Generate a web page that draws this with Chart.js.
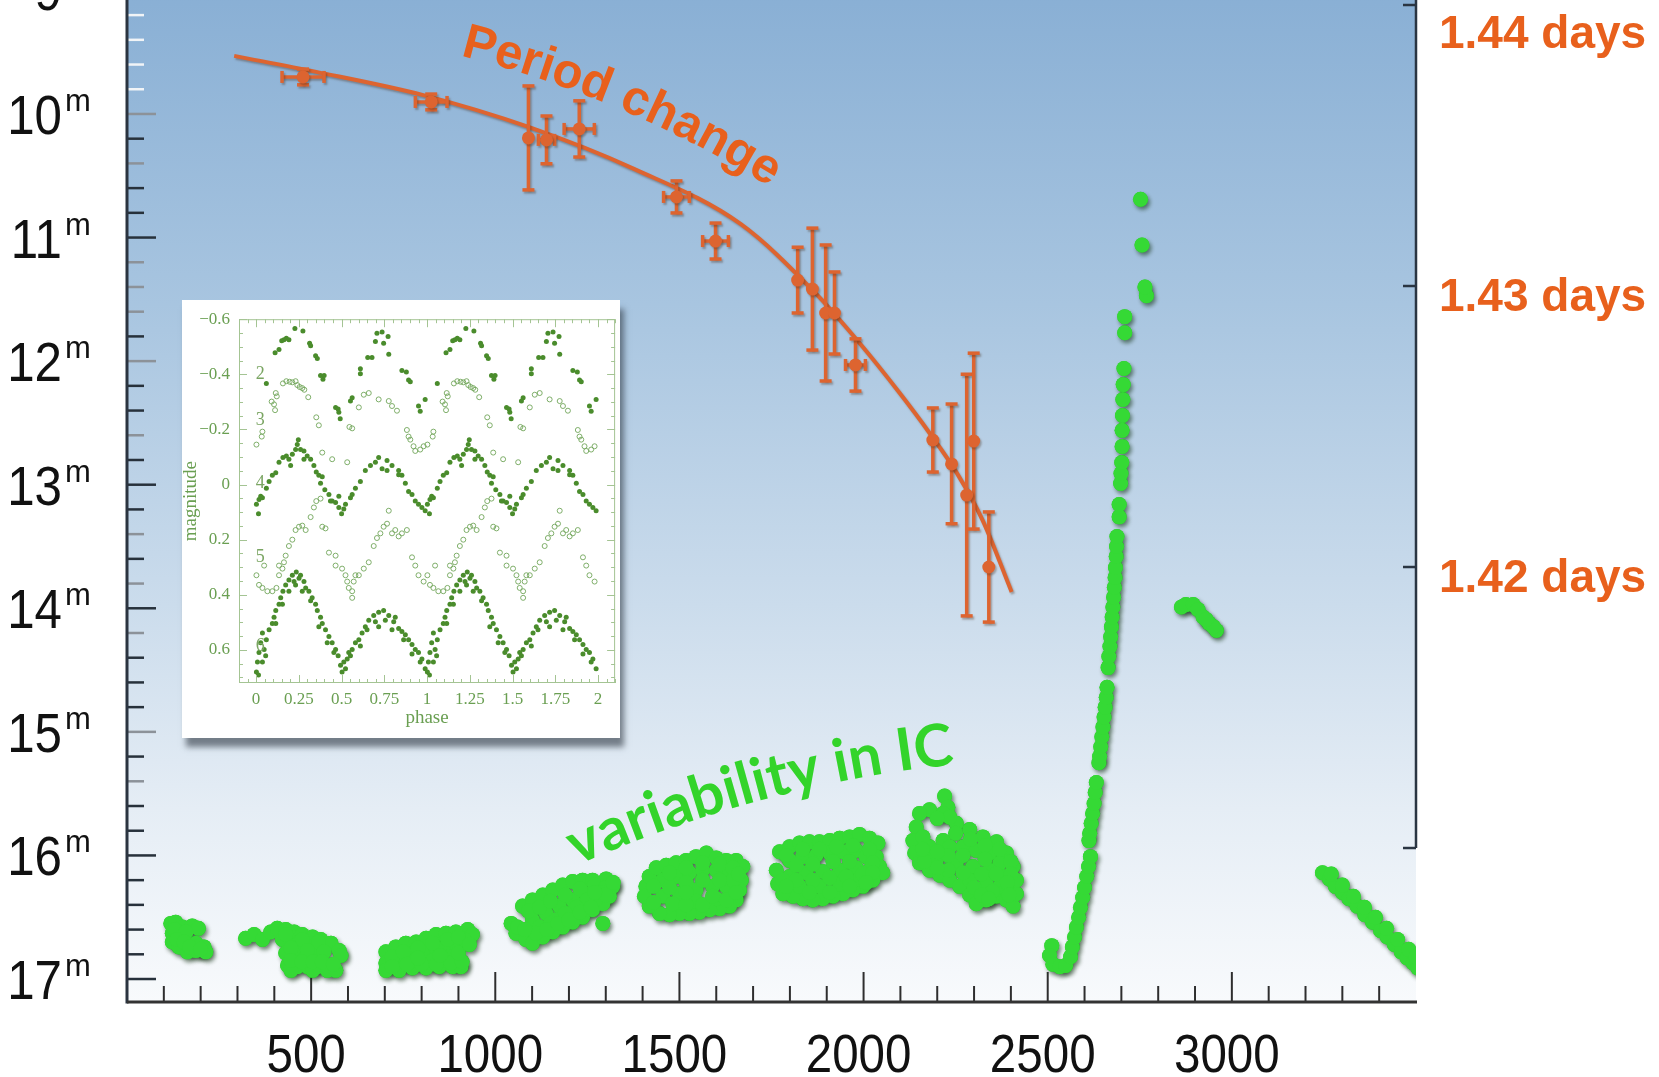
<!DOCTYPE html>
<html lang="en">
<head>
<meta charset="UTF-8">
<title>Period change and variability in IC</title>
<script src="https://cdn.jsdelivr.net/npm/chart.js@4"></script>
<style>
    html, body { margin: 0; padding: 0; background: #fff; overflow: hidden; }
    body { width: 1659px; height: 1077px; position: relative; }
    #main { position: absolute; left: 0; top: -100px; }
    #inset { position: absolute; left: 182px; top: 300px; background: #fff; box-shadow: 4px 9px 6px rgba(45, 55, 65, 0.6); }
</style>
</head>
<body>
<canvas id="main" width="1659" height="1177"></canvas>
<canvas id="inset" width="438" height="438"></canvas>

<script>
    // ---- main plot: IC magnitudes (days, mag), one line per observing season ----
    var icDay = [
        119, 132, 150, 177, 194, 123, 146, 123, 141, 164, 187, 209, 214, 187, 130, 160, 135, 155, 170, 200,
        322, 345, 368, 390, 408, 431, 454, 476, 504, 526, 554, 576, 581, 422, 445, 467, 495, 522, 431, 458, 486, 513, 436, 463, 490, 517, 544, 567, 445, 504, 431, 476, 520, 445, 490, 535, 445, 475, 505, 530, 560,
        703, 730, 757, 785, 812, 839, 866, 893, 925, 938, 703, 730, 757, 785, 812, 839, 866, 893, 916, 703, 739, 775, 812, 848, 884, 907, 766, 830, 875, 720, 750, 790, 830, 870, 900, 720, 760, 800, 840, 880, 910, 790, 850, 900, 930,
        1043, 1056, 1083, 1101, 1074, 1101, 1129, 1156, 1183, 1210, 1237, 1264, 1301, 1319, 1310, 1292, 1264, 1237, 1210, 1183, 1156, 1129, 1101, 1138, 1174, 1210, 1246, 1283, 1120, 1165, 1201, 1237, 1274, 1292,
        1060, 1090, 1120, 1150, 1190, 1230, 1270, 1300, 1290, 1250, 1220, 1190, 1150, 1110, 1080, 1140, 1170, 1200, 1230, 1260, 1300, 1270, 1320,
        1409, 1418, 1437, 1464, 1491, 1518, 1545, 1573, 1600, 1627, 1654, 1672, 1668, 1663, 1654, 1636, 1609, 1582, 1554, 1527, 1500, 1473, 1446, 1418, 1405, 1455, 1491, 1527, 1563, 1600, 1636, 1455, 1500, 1545, 1590, 1627, 1482, 1545, 1600,
        1473, 1518, 1563, 1609, 1645, 1645, 1609, 1563, 1518, 1473, 1430, 1430, 1518, 1563, 1627, 1654, 1518, 1590, 1660,
        1772, 1799, 1826, 1853, 1880, 1908, 1935, 1962, 1989, 2016, 2039, 2034, 2043, 2052, 2025, 1998, 1971, 1944, 1917, 1889, 1862, 1835, 1808, 1781, 1767, 1763, 1799, 1835, 1871, 1908, 1944, 1980, 2007, 1799, 1844, 1889, 1935, 1980, 2016, 1826, 1880, 1935, 1989,
        1790, 1835, 1880, 1926, 1971, 2016, 2025, 1962, 1917, 1862, 1817, 1781, 1817, 1862, 1908, 1953, 1998, 2025, 1853, 1908, 1962, 1790, 2007,
        2220, 2229, 2216, 2179, 2152, 2143, 2134, 2139, 2152, 2179, 2207, 2234, 2261, 2288, 2306, 2333, 2361, 2388, 2406, 2415, 2415, 2406, 2388, 2361, 2324, 2288, 2252, 2234, 2216, 2179, 2234, 2270, 2306, 2342, 2370, 2197, 2252, 2297, 2342, 2379, 2288, 2333, 2370, 2388, 2161, 2179,
        2200, 2250, 2290, 2330, 2370, 2400, 2400, 2360, 2320, 2270, 2230, 2200, 2165, 2230, 2270, 2330, 2300, 2350, 2390, 2320, 2160, 2200, 2340, 2395,
        2511, 2505, 2514, 2533, 2549, 2562, 2567, 2573, 2578, 2584, 2589, 2595, 2600, 2606, 2611, 2616,
        2612, 2614, 2618, 2622, 2626, 2629, 2632,
        2639, 2641, 2644, 2647, 2650, 2653, 2656, 2659, 2661,
        2664, 2666, 2669, 2671, 2673, 2675, 2677, 2679, 2681, 2683, 2684, 2686, 2687, 2688,
        2694, 2694, 2698, 2699, 2701, 2702, 2702, 2703, 2704, 2705, 2707, 2709, 2709, 2768, 2764, 2756, 2752,
        2863, 2875, 2895, 2908, 2922, 2938, 2958, 2950, 2930,
        3246, 3265, 3281, 3300, 3318, 3340, 3361, 3382, 3404, 3422, 3441, 3460, 3476, 3492, 3505, 3270, 3300, 3330, 3360, 3390, 3420, 3450, 3480, 3500
    ];
    var icMag = [
        16.55, 16.54, 16.58, 16.57, 16.59, 16.63, 16.64, 16.70, 16.74, 16.78, 16.77, 16.74, 16.78, 16.71, 16.60, 16.62, 16.68, 16.70, 16.74, 16.76,
        16.67, 16.64, 16.68, 16.62, 16.59, 16.60, 16.62, 16.64, 16.66, 16.68, 16.71, 16.77, 16.81, 16.68, 16.71, 16.71, 16.74, 16.75, 16.79, 16.81, 16.82, 16.82, 16.89, 16.90, 16.90, 16.90, 16.93, 16.93, 16.93, 16.93, 16.64, 16.68, 16.70, 16.75, 16.77, 16.78, 16.85, 16.86, 16.86, 16.86, 16.88,
        16.78, 16.74, 16.71, 16.70, 16.67, 16.64, 16.63, 16.62, 16.60, 16.64, 16.87, 16.85, 16.82, 16.79, 16.78, 16.75, 16.74, 16.71, 16.68, 16.93, 16.93, 16.91, 16.91, 16.90, 16.90, 16.90, 16.86, 16.85, 16.82, 16.82, 16.78, 16.75, 16.71, 16.68, 16.66, 16.90, 16.88, 16.88, 16.88, 16.87, 16.86, 16.83, 16.81, 16.79, 16.72,
        16.55, 16.63, 16.68, 16.71, 16.41, 16.36, 16.32, 16.28, 16.24, 16.21, 16.20, 16.20, 16.19, 16.25, 16.33, 16.39, 16.44, 16.50, 16.54, 16.58, 16.62, 16.66, 16.52, 16.47, 16.41, 16.36, 16.31, 16.28, 16.58, 16.52, 16.47, 16.40, 16.35, 16.55,
        16.58, 16.45, 16.42, 16.37, 16.32, 16.27, 16.24, 16.26, 16.30, 16.36, 16.42, 16.47, 16.55, 16.63, 16.60, 16.60, 16.55, 16.52, 16.46, 16.42, 16.32, 16.30, 16.22,
        16.25, 16.17, 16.10, 16.08, 16.06, 16.04, 16.01, 15.98, 16.02, 16.04, 16.04, 16.09, 16.20, 16.28, 16.36, 16.41, 16.43, 16.44, 16.46, 16.47, 16.47, 16.48, 16.47, 16.41, 16.33, 16.20, 16.17, 16.14, 16.12, 16.12, 16.14, 16.33, 16.31, 16.28, 16.25, 16.25, 16.39, 16.37, 16.35,
        16.14, 16.10, 16.06, 16.07, 16.10, 16.20, 16.20, 16.20, 16.22, 16.26, 16.25, 16.38, 16.40, 16.40, 16.36, 16.30, 16.30, 16.33, 16.15,
        15.97, 15.93, 15.90, 15.89, 15.89, 15.88, 15.86, 15.85, 15.83, 15.86, 15.90, 16.01, 16.09, 16.14, 16.20, 16.25, 16.28, 16.31, 16.33, 16.35, 16.36, 16.35, 16.33, 16.31, 16.23, 16.12, 16.04, 16.01, 16.00, 15.98, 15.97, 15.96, 16.01, 16.17, 16.14, 16.13, 16.12, 16.10, 16.12, 16.25, 16.25, 16.23, 16.19,
        16.00, 15.95, 15.95, 15.93, 15.92, 15.95, 16.06, 16.05, 16.05, 16.07, 16.08, 16.20, 16.20, 16.20, 16.18, 16.17, 16.15, 16.14, 16.30, 16.30, 16.25, 16.25, 16.22,
        15.52, 15.61, 15.66, 15.63, 15.66, 15.77, 15.88, 15.98, 16.06, 16.12, 16.16, 16.20, 16.25, 16.32, 16.39, 16.36, 16.33, 16.36, 16.41, 16.31, 16.20, 16.09, 15.98, 15.89, 15.85, 15.79, 15.74, 15.69, 15.88, 15.93, 15.93, 15.93, 15.96, 15.98, 16.06, 16.04, 16.06, 16.09, 16.12, 16.17, 16.20, 16.23, 16.25, 16.28, 15.85, 16.01,
        15.70, 15.82, 15.87, 15.92, 15.95, 16.05, 16.15, 16.15, 16.15, 16.14, 16.12, 16.10, 16.05, 16.00, 16.00, 16.03, 16.26, 16.29, 16.22, 16.32, 15.95, 15.97, 16.35, 16.32,
        16.73, 16.81, 16.88, 16.90, 16.89, 16.82, 16.74, 16.66, 16.58, 16.50, 16.42, 16.34, 16.26, 16.17, 16.09, 16.01,
        15.88, 15.82, 15.74, 15.66, 15.58, 15.49, 15.41,
        15.25, 15.20, 15.12, 15.04, 14.96, 14.88, 14.80, 14.72, 14.64,
        14.48, 14.39, 14.31, 14.23, 14.15, 14.07, 13.99, 13.91, 13.83, 13.75, 13.67, 13.58, 13.50, 13.42,
        13.26, 13.16, 12.99, 12.91, 12.82, 12.69, 12.56, 12.44, 12.31, 12.19, 12.06, 11.77, 11.64, 11.47, 11.40, 11.06, 10.69,
        13.99, 13.97, 13.97, 14.01, 14.07, 14.12, 14.18, 14.15, 14.09,
        16.14, 16.19, 16.25, 16.30, 16.35, 16.41, 16.48, 16.54, 16.61, 16.66, 16.72, 16.78, 16.83, 16.87, 16.91, 16.15, 16.24, 16.33, 16.42, 16.50, 16.59, 16.68, 16.76, 16.82
    ];

    // ---- period change (right axis, days) ----
    var fitDay = [291, 514, 802, 1090, 1378, 1666, 1861, 1989, 2098, 2179, 2253, 2323, 2402];
    var fitPeriod = [1.43819, 1.43762, 1.43680, 1.43566, 1.43416, 1.43221, 1.42986, 1.42797, 1.42619, 1.42477, 1.42335, 1.42167, 1.41911];

    var perDay = [478, 826, 1090, 1139, 1228, 1492, 1598, 1821, 1861, 1897, 1921, 1978, 2188, 2239, 2280, 2299, 2340];
    var perPeriod = [1.43744, 1.43655, 1.43527, 1.43520, 1.43559, 1.43317, 1.43160, 1.43021, 1.42989, 1.42904, 1.42904, 1.42719, 1.42452, 1.42367, 1.42256, 1.42448, 1.42000];
    var perErr = [0.00028, 0.00028, 0.00185, 0.00085, 0.00100, 0.00057, 0.00064, 0.00117, 0.00217, 0.00242, 0.00146, 0.00093, 0.00114, 0.00213, 0.00430, 0.00313, 0.00196];
    var perDayErr = [57, 43, 0, 22, 41, 35, 35, 0, 0, 0, 0, 27, 0, 0, 0, 0, 0];

    var magTicks = [9, 10, 11, 12, 13, 14, 15, 16, 17];
    var dayTicks = [500, 1000, 1500, 2000, 2500, 3000];
    var periodTicks = [1.44, 1.43, 1.42, 1.41];
    var periodLabels = ['1.44 days', '1.43 days', '1.42 days'];
    var greyTicks = [10, 10.4, 11.2, 11.4, 11.6, 12, 12.6, 13.4, 13.8, 14.2, 15, 15.4];

    // ---- inset: phase folded light curves (phase 0..1) ----
    var ph2 = [0.060, 0.111, 0.134, 0.150, 0.163, 0.177, 0.192, 0.227, 0.274, 0.313, 0.319, 0.348, 0.358, 0.377, 0.391, 0.398, 0.465, 0.480, 0.484, 0.492, 0.552, 0.562, 0.610, 0.610, 0.653, 0.678, 0.698, 0.707, 0.737, 0.746, 0.772, 0.776, 0.853, 0.879, 0.892, 0.902, 0.950, 0.960, 0.989];
    var mg2 = [-0.367, -0.478, -0.490, -0.522, -0.525, -0.531, -0.525, -0.566, -0.557, -0.513, -0.504, -0.467, -0.457, -0.396, -0.382, -0.396, -0.280, -0.274, -0.262, -0.239, -0.303, -0.315, -0.420, -0.402, -0.461, -0.461, -0.519, -0.549, -0.554, -0.513, -0.537, -0.473, -0.414, -0.408, -0.379, -0.373, -0.285, -0.266, -0.309];

    var ph3 = [0.002, 0.033, 0.037, 0.091, 0.105, 0.111, 0.115, 0.121, 0.157, 0.177, 0.196, 0.212, 0.231, 0.241, 0.255, 0.270, 0.282, 0.305, 0.352, 0.367, 0.387, 0.445, 0.533, 0.546, 0.562, 0.601, 0.630, 0.659, 0.717, 0.776, 0.795, 0.824, 0.882, 0.892, 0.902, 0.921, 0.931, 0.960, 0.980];
    var mg3 = [-0.145, -0.174, -0.192, -0.301, -0.291, -0.270, -0.332, -0.320, -0.367, -0.375, -0.373, -0.371, -0.375, -0.361, -0.354, -0.350, -0.344, -0.317, -0.244, -0.215, -0.116, -0.092, -0.081, -0.209, -0.204, -0.280, -0.326, -0.332, -0.309, -0.303, -0.285, -0.268, -0.198, -0.174, -0.163, -0.139, -0.122, -0.127, -0.139];

    var ph4 = [0.002, 0.014, 0.017, 0.027, 0.037, 0.060, 0.076, 0.095, 0.115, 0.134, 0.157, 0.177, 0.192, 0.212, 0.231, 0.241, 0.247, 0.260, 0.280, 0.299, 0.319, 0.338, 0.352, 0.367, 0.387, 0.402, 0.426, 0.445, 0.465, 0.484, 0.500, 0.513, 0.523, 0.552, 0.562, 0.581, 0.610, 0.639, 0.669, 0.698, 0.717, 0.737, 0.766, 0.795, 0.834, 0.853, 0.873, 0.892, 0.912, 0.931, 0.950, 0.970, 0.989, 0.202, 0.280, 0.377, 0.435, 0.484, 0.766, 0.834];
    var mg4 = [0.071, 0.106, 0.054, 0.042, 0.048, 0.013, -0.011, -0.034, -0.043, -0.081, -0.098, -0.104, -0.092, -0.110, -0.127, -0.145, -0.163, -0.127, -0.122, -0.104, -0.092, -0.069, -0.046, -0.034, -0.028, 0.019, 0.036, 0.060, 0.065, 0.083, 0.106, 0.089, 0.071, 0.048, 0.036, 0.013, -0.011, -0.051, -0.069, -0.081, -0.098, -0.057, -0.051, -0.069, -0.051, -0.034, -0.005, 0.025, 0.036, 0.060, 0.071, 0.083, 0.095, -0.069, -0.092, -0.005, 0.060, 0.042, -0.087, -0.036];

    var ph5 = [0.002, 0.017, 0.037, 0.066, 0.095, 0.119, 0.134, 0.154, 0.163, 0.173, 0.192, 0.212, 0.231, 0.251, 0.270, 0.290, 0.319, 0.338, 0.352, 0.377, 0.387, 0.406, 0.426, 0.465, 0.465, 0.503, 0.523, 0.533, 0.542, 0.562, 0.571, 0.601, 0.630, 0.659, 0.688, 0.707, 0.727, 0.746, 0.766, 0.776, 0.795, 0.814, 0.834, 0.853, 0.882, 0.912, 0.931, 0.950, 0.980, 0.047, 0.134, 0.562, 0.581];
    var mg5 = [0.329, 0.364, 0.375, 0.387, 0.387, 0.375, 0.329, 0.305, 0.282, 0.258, 0.223, 0.200, 0.165, 0.153, 0.149, 0.165, 0.118, 0.083, 0.060, 0.051, 0.153, 0.159, 0.247, 0.258, 0.294, 0.305, 0.329, 0.352, 0.375, 0.387, 0.352, 0.329, 0.305, 0.282, 0.223, 0.194, 0.177, 0.153, 0.142, 0.095, 0.177, 0.165, 0.188, 0.177, 0.165, 0.264, 0.294, 0.329, 0.352, 0.294, 0.294, 0.411, 0.329];

    var ph6 = [0.002, 0.008, 0.017, 0.027, 0.037, 0.047, 0.060, 0.076, 0.095, 0.105, 0.115, 0.134, 0.144, 0.157, 0.173, 0.192, 0.212, 0.222, 0.235, 0.251, 0.260, 0.280, 0.290, 0.309, 0.328, 0.348, 0.358, 0.377, 0.387, 0.406, 0.426, 0.445, 0.465, 0.480, 0.494, 0.503, 0.513, 0.533, 0.542, 0.562, 0.581, 0.601, 0.620, 0.639, 0.659, 0.688, 0.717, 0.746, 0.776, 0.805, 0.834, 0.853, 0.873, 0.892, 0.912, 0.931, 0.950, 0.970, 0.989, 0.037, 0.056, 0.115, 0.154, 0.192, 0.231, 0.270, 0.319, 0.367, 0.416, 0.455, 0.523, 0.552, 0.610, 0.649, 0.698, 0.756, 0.814, 0.863, 0.912, 0.960, 0.014, 0.717, 0.795];
    var mg6 = [0.680, 0.644, 0.609, 0.574, 0.539, 0.598, 0.563, 0.527, 0.504, 0.481, 0.457, 0.434, 0.411, 0.387, 0.364, 0.346, 0.329, 0.352, 0.317, 0.340, 0.329, 0.352, 0.375, 0.387, 0.411, 0.434, 0.457, 0.481, 0.504, 0.527, 0.551, 0.574, 0.598, 0.621, 0.656, 0.680, 0.644, 0.633, 0.609, 0.598, 0.574, 0.563, 0.539, 0.516, 0.492, 0.475, 0.463, 0.457, 0.475, 0.498, 0.522, 0.533, 0.545, 0.563, 0.580, 0.598, 0.609, 0.633, 0.668, 0.644, 0.621, 0.504, 0.434, 0.387, 0.364, 0.387, 0.422, 0.516, 0.574, 0.609, 0.668, 0.621, 0.586, 0.527, 0.498, 0.492, 0.481, 0.563, 0.615, 0.644, 0.691, 0.516, 0.527];

    var phaseTicks = [0, 0.25, 0.5, 0.75, 1, 1.25, 1.5, 1.75, 2];
    var insetMagTicks = [-0.6, -0.4, -0.2, 0, 0.2, 0.4, 0.6];
    var curveNames = ['2', '3', '4', '5', '6'];
    var curveNameMag = [-0.40, -0.235, -0.005, 0.264, 0.588];

    var orange = '#dd6430';
    var labelOrange = '#e8601c';
    var green = '#35d935';
    var axisFont = '"Liberation Sans", Arial, sans-serif';

    function pairs(xs, ys) {
        var out = [];
        for (var i = 0; i < xs.length; i++) out.push({ x: xs[i], y: ys[i] });
        return out;
    }

    // phase folded plot shows each point at phase and phase + 1
    function folded(ph, mg) {
        var out = [];
        for (var k = 0; k < 2; k++) {
            for (var i = 0; i < ph.length; i++) out.push({ x: ph[i] + k, y: mg[i] });
        }
        return out;
    }

    function arcText(ctx, text, x, y, a0, a1) {
        var total = ctx.measureText(text).width, run = 0;
        for (var ch of text) {
            var w = ctx.measureText(ch).width;
            var a = (a0 + (a1 - a0) * (run + w / 2) / total) * Math.PI / 180;
            ctx.save();
            ctx.translate(x, y);
            ctx.rotate(a);
            ctx.fillText(ch, 0, 0);
            ctx.restore();
            x += w * Math.cos(a);
            y += w * Math.sin(a);
            run += w;
        }
    }

    // the axis numbers use a condensed face: squeeze the regular one a little
    function narrowText(ctx, text, x, y, squeeze) {
        ctx.save();
        ctx.translate(x, y);
        ctx.scale(squeeze, 1);
        ctx.fillText(text, 0, 0);
        ctx.restore();
    }

    function line(ctx, x1, y1, x2, y2) {
        ctx.beginPath();
        ctx.moveTo(x1, y1);
        ctx.lineTo(x2, y2);
        ctx.stroke();
    }

    var mainDecor = {
        id: 'mainDecor',
        beforeDraw: function (chart) {
            var ctx = chart.ctx, a = chart.chartArea;
            var g = ctx.createLinearGradient(0, a.top, 0, a.bottom);
            g.addColorStop(0, '#84abd1');
            g.addColorStop(0.07, '#8ab0d5');
            g.addColorStop(0.35, '#a8c5e0');
            g.addColorStop(0.63, '#cbdcec');
            g.addColorStop(0.82, '#e5edf5');
            g.addColorStop(1, '#f8fafc');
            ctx.fillStyle = g;
            ctx.fillRect(a.left, a.top, a.right - a.left, a.bottom - a.top);
        },
        beforeDatasetsDraw: function (chart) {
            var ctx = chart.ctx, a = chart.chartArea;
            var sx = chart.scales.x, sy = chart.scales.y, sp = chart.scales.yP;
            ctx.save();
            ctx.lineCap = 'butt';
            // left axis ticks, every 0.2 mag
            ctx.lineWidth = 2.5;
            for (var i = 46; i <= 85; i++) {
                var m = i / 5, y = sy.getPixelForValue(m);
                if (m < 10) ctx.strokeStyle = '#f1f4f7';
                else if (greyTicks.indexOf(m) >= 0) ctx.strokeStyle = '#8c9299';
                else ctx.strokeStyle = '#27313b';
                line(ctx, a.left, y, a.left + (i % 5 === 0 ? 29 : 17), y);
            }
            // bottom axis ticks, every 100 days
            ctx.strokeStyle = '#2e2e2e';
            ctx.lineWidth = 2;
            for (var d = 100; d < 3500; d += 100) {
                var x = sx.getPixelForValue(d);
                line(ctx, x, a.bottom, x, a.bottom - (d % 500 === 0 ? 30 : 16));
            }
            // right (period) axis, drawn down to its last tick
            ctx.strokeStyle = '#2a3542';
            ctx.lineWidth = 2.5;
            periodTicks.forEach(function (p) {
                var y = sp.getPixelForValue(p);
                line(ctx, a.right - 13, y, a.right, y);
            });
            line(ctx, a.right, a.top, a.right, sp.getPixelForValue(periodTicks[periodTicks.length - 1]));
            // left and bottom axis lines
            ctx.strokeStyle = '#2b3440';
            ctx.lineWidth = 3;
            line(ctx, a.left, a.top, a.left, a.bottom + 1.5);
            ctx.strokeStyle = '#333';
            line(ctx, a.left, a.bottom, a.right + 1, a.bottom);
            ctx.restore();
        },
        beforeDatasetDraw: function (chart, args) {
            var ctx = chart.ctx;
            ctx.save();
            if (args.index === 3) {
                // under-copy of the IC points carries the drop shadow
                ctx.shadowColor = 'rgba(25, 55, 25, 0.6)';
                ctx.shadowOffsetX = 2;
                ctx.shadowOffsetY = 3;
                ctx.shadowBlur = 4;
            } else if (args.index !== 0) {
                ctx.shadowColor = 'rgba(70, 40, 20, 0.35)';
                ctx.shadowOffsetX = 1.5;
                ctx.shadowOffsetY = 2;
                ctx.shadowBlur = 2;
            }
            if (args.index === 2) {
                var sx = chart.scales.x, sp = chart.scales.yP;
                ctx.strokeStyle = orange;
                ctx.lineWidth = 3.5;
                for (var i = 0; i < perDay.length; i++) {
                    var x = sx.getPixelForValue(perDay[i]);
                    var y = sp.getPixelForValue(perPeriod[i]);
                    var y1 = sp.getPixelForValue(perPeriod[i] + perErr[i]);
                    var y2 = sp.getPixelForValue(perPeriod[i] - perErr[i]);
                    line(ctx, x, y1, x, y2);
                    line(ctx, x - 6, y1, x + 6, y1);
                    line(ctx, x - 6, y2, x + 6, y2);
                    if (perDayErr[i] > 0) {
                        var x1 = sx.getPixelForValue(perDay[i] - perDayErr[i]);
                        var x2 = sx.getPixelForValue(perDay[i] + perDayErr[i]);
                        line(ctx, x1, y, x2, y);
                        line(ctx, x1, y - 6, x1, y + 6);
                        line(ctx, x2, y - 6, x2, y + 6);
                    }
                }
            }
        },
        afterDatasetDraw: function (chart) {
            chart.ctx.restore();
        },
        afterDraw: function (chart) {
            var ctx = chart.ctx, a = chart.chartArea;
            var sx = chart.scales.x, sy = chart.scales.y, sp = chart.scales.yP;
            ctx.save();
            ctx.fillStyle = '#111';
            ctx.textBaseline = 'alphabetic';
            // magnitude labels with superscript m
            magTicks.forEach(function (m) {
                var y = sy.getPixelForValue(m);
                ctx.font = '56px ' + axisFont;
                ctx.textAlign = 'right';
                narrowText(ctx, String(m), 62, y + 20, 0.88);
                ctx.font = '31px ' + axisFont;
                ctx.textAlign = 'left';
                ctx.fillText('m', 65, y - 3);
            });
            // day labels under the bottom axis
            ctx.font = '54px ' + axisFont;
            ctx.textAlign = 'center';
            dayTicks.forEach(function (d) {
                narrowText(ctx, String(d), sx.getPixelForValue(d) - 5, a.bottom + 70, 0.88);
            });
            // period labels
            ctx.fillStyle = labelOrange;
            ctx.font = 'bold 46px "Liberation Sans", Arial, sans-serif';
            ctx.textAlign = 'left';
            periodLabels.forEach(function (t, i) {
                var y = sp.getPixelForValue(periodTicks[i]);
                ctx.fillText(t, a.right + 23, Math.max(y + 25, a.top + 119));
            });
            // annotations
            ctx.font = 'bold 49px "Liberation Sans", Arial, sans-serif';
            ctx.fillStyle = labelOrange;
            arcText(ctx, 'Period change', sx.getPixelForValue(905), sp.getPixelForValue(1.4382), 14, 32);
            ctx.font = 'bold 59px Lato, "Open Sans", sans-serif';
            ctx.fillStyle = '#33d42a';
            arcText(ctx, 'variability in IC', sx.getPixelForValue(1222), sy.getPixelForValue(16.08), -24, -6);
            ctx.restore();
        }
    };

    new Chart(document.getElementById('main'), {
        type: 'scatter',
        data: {
            datasets: [{
                label: 'IC',
                data: pairs(icDay, icMag),
                xAxisID: 'x',
                yAxisID: 'y',
                pointRadius: 7.5,
                backgroundColor: green,
                borderWidth: 0,
                order: 1
            }, {
                label: 'period fit',
                data: pairs(fitDay, fitPeriod),
                xAxisID: 'x',
                yAxisID: 'yP',
                showLine: true,
                pointRadius: 0,
                borderColor: orange,
                borderWidth: 4,
                cubicInterpolationMode: 'monotone',
                order: 4
            }, {
                label: 'period',
                data: pairs(perDay, perPeriod),
                xAxisID: 'x',
                yAxisID: 'yP',
                pointRadius: 6.5,
                backgroundColor: orange,
                borderColor: orange,
                borderWidth: 0,
                order: 3
            }, {
                label: 'IC shadow',
                data: pairs(icDay, icMag),
                xAxisID: 'x',
                yAxisID: 'y',
                pointRadius: 7.5,
                backgroundColor: '#2cc72c',
                borderWidth: 0,
                order: 2
            }]
        },
        options: {
            responsive: false,
            animation: false,
            devicePixelRatio: 1,
            layout: { padding: { top: 28.6 } },
            plugins: { legend: { display: false }, tooltip: { enabled: false } },
            scales: {
                x: {
                    type: 'linear',
                    position: 'bottom',
                    min: 0,
                    max: 3500,
                    grid: { display: false, drawTicks: false },
                    border: { display: false },
                    ticks: { display: false },
                    afterFit: function (s) { s.height = 75; }
                },
                y: {
                    type: 'linear',
                    position: 'left',
                    reverse: true,
                    min: 8.5,
                    max: 17.186,
                    grid: { display: false, drawTicks: false },
                    border: { display: false },
                    ticks: { display: false },
                    afterFit: function (s) { s.width = 127; }
                },
                yP: {
                    type: 'linear',
                    position: 'right',
                    min: 1.40452,
                    max: 1.442719,
                    grid: { display: false, drawTicks: false },
                    border: { display: false },
                    ticks: { display: false },
                    afterFit: function (s) { s.width = 243; }
                }
            }
        },
        plugins: [mainDecor]
    });

    // ---- inset ----
    var insetGreen = '#6a9f52';
    var insetFrame = {
        id: 'insetFrame',
        afterDatasetsDraw: function (chart) {
            var ctx = chart.ctx, a = chart.chartArea;
            var sx = chart.scales.x, sy = chart.scales.y;
            ctx.save();
            ctx.strokeStyle = '#a4c493';
            ctx.lineWidth = 1;
            ctx.strokeRect(a.left + 0.5, a.top + 0.5, a.right - a.left - 1, a.bottom - a.top - 1);
            for (var i = -2; i <= 42; i++) {
                var x = Math.round(sx.getPixelForValue(i / 20)) + 0.5;
                var len = i % 5 === 0 ? 8 : 4;
                line(ctx, x, a.bottom, x, a.bottom - len);
                line(ctx, x, a.top, x, a.top + len);
            }
            for (var j = -12; j <= 14; j++) {
                var y = Math.round(sy.getPixelForValue(j / 20)) + 0.5;
                var l2 = j % 4 === 0 ? 8 : 4;
                line(ctx, a.left, y, a.left + l2, y);
                line(ctx, a.right, y, a.right - l2, y);
            }
            ctx.fillStyle = '#7aa562';
            ctx.font = '18px "Liberation Serif", "DejaVu Serif", serif';
            ctx.textAlign = 'center';
            ctx.textBaseline = 'middle';
            curveNames.forEach(function (t, k) {
                ctx.fillText(t, sx.getPixelForValue(0.025), sy.getPixelForValue(curveNameMag[k]));
            });
            ctx.restore();
        }
    };

    function filledSet(ph, mg) {
        return { data: folded(ph, mg), pointRadius: 2.5, backgroundColor: '#4a8c2c', borderWidth: 0 };
    }
    function openSet(ph, mg) {
        return { data: folded(ph, mg), pointRadius: 2.5, backgroundColor: 'rgba(0,0,0,0)', borderColor: '#72a65a', borderWidth: 0.9 };
    }

    var serif = '"Liberation Serif", "DejaVu Serif", serif';
    new Chart(document.getElementById('inset'), {
        type: 'scatter',
        data: {
            datasets: [filledSet(ph2, mg2), openSet(ph3, mg3), filledSet(ph4, mg4), openSet(ph5, mg5), filledSet(ph6, mg6)]
        },
        options: {
            responsive: false,
            animation: false,
            devicePixelRatio: 1,
            layout: { padding: { top: 8, right: 3 } },
            plugins: { legend: { display: false }, tooltip: { enabled: false } },
            scales: {
                x: {
                    type: 'linear',
                    min: -0.1,
                    max: 2.1,
                    grid: { display: false, drawTicks: false },
                    border: { display: false },
                    afterBuildTicks: function (s) { s.ticks = phaseTicks.map(function (v) { return { value: v }; }); },
                    afterFit: function (s) { s.height = 55; },
                    ticks: {
                        autoSkip: false,
                        maxRotation: 0,
                        padding: 6,
                        color: insetGreen,
                        font: { family: serif, size: 17 },
                        callback: function (v) { return String(v); }
                    },
                    title: {
                        display: true,
                        text: 'phase',
                        color: insetGreen,
                        font: { family: serif, size: 19, lineHeight: 1 },
                        padding: { top: 0, bottom: 10 }
                    }
                },
                y: {
                    type: 'linear',
                    reverse: true,
                    min: -0.6,
                    max: 0.72,
                    grid: { display: false, drawTicks: false },
                    border: { display: false },
                    afterBuildTicks: function (s) { s.ticks = insetMagTicks.map(function (v) { return { value: v }; }); },
                    afterFit: function (s) { s.width = 57; },
                    ticks: {
                        padding: 9,
                        color: insetGreen,
                        font: { family: serif, size: 17 },
                        callback: function (v) {
                            if (v === 0) return '0';
                            return (v < 0 ? '\u2212' : '') + Math.abs(v).toFixed(1);
                        }
                    },
                    title: {
                        display: true,
                        text: 'magnitude',
                        color: insetGreen,
                        font: { family: serif, size: 19, lineHeight: 1 },
                        padding: { top: 0, bottom: 0 }
                    }
                }
            }
        },
        plugins: [insetFrame]
    });
</script>
</body>
</html>
